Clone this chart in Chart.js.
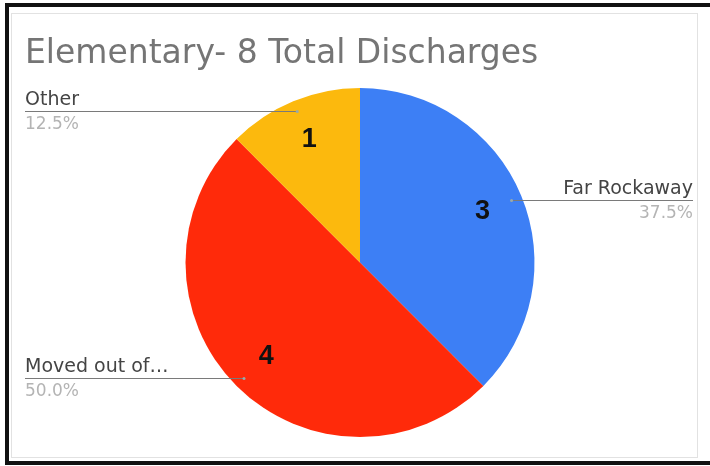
<!DOCTYPE html>
<html>
<head>
<meta charset="utf-8">
<script src="https://cdn.jsdelivr.net/npm/chart.js@4.4.1/dist/chart.umd.min.js"></script>
<style>
  html, body { margin: 0; padding: 0; background: #fff; overflow: hidden; }
  #wrap { position: relative; width: 710px; height: 466px; }
  #frame { position: absolute; left: 5px; top: 3px; width: 740px; height: 462px;
           box-sizing: border-box; border: 4px solid #111; border-right: none; pointer-events: none; }
  #inner { position: absolute; left: 11px; top: 13px; width: 687px; height: 445px;
           box-sizing: border-box; border: 1px solid #e2e2e2; pointer-events: none; }
</style>
</head>
<body>
<div id="wrap">
  <canvas id="chart" width="710" height="466"></canvas>
  <div id="inner"></div>
  <div id="frame"></div>
</div>
<script>
// data
const chartTitle = "Elementary- 8 Total Discharges";
const categories = ["Far Rockaway", "Moved out of\u2026", "Other"];
const counts = [3, 4, 1];
const sliceColors = ["#3d7ff5", "#ff2a0a", "#fcb90d"];

const total = counts.reduce((a, b) => a + b, 0);

// title, slice numbers, leader lines and side labels
const labelPlugin = {
  id: "sheetLabels",
  afterDatasetsDraw(chart) {
    const ctx = chart.ctx;
    const meta = chart.getDatasetMeta(0);
    ctx.save();

    // title
    ctx.font = '33px "DejaVu Sans"';
    ctx.fillStyle = "#757575";
    ctx.textAlign = "left";
    ctx.textBaseline = "alphabetic";
    ctx.fillText(chartTitle, 25, 63);

    meta.data.forEach((arc, i) => {
      const p = arc.getProps(["x", "y", "startAngle", "endAngle", "outerRadius"], true);
      const mid = (p.startAngle + p.endAngle) / 2;
      const R = p.outerRadius;

      // count inside the slice
      ctx.font = 'bold 27px "Liberation Sans"';
      ctx.fillStyle = "#111";
      ctx.textAlign = "center";
      ctx.textBaseline = "middle";
      ctx.fillText(String(counts[i]), p.x + Math.cos(mid) * R * 0.76, p.y + Math.sin(mid) * R * 0.76);

      // leader line
      const sx = p.x + Math.cos(mid) * R * 0.94;
      const sy = Math.round(p.y + Math.sin(mid) * R * 0.94) + 0.5;
      const onRight = Math.cos(mid) > 0;
      const ex = onRight ? chart.width - 17 : 25;
      ctx.strokeStyle = "#7a7a7a";
      ctx.lineWidth = 1;
      ctx.beginPath();
      ctx.moveTo(sx, sy);
      ctx.lineTo(ex, sy);
      ctx.stroke();
      ctx.fillStyle = "#9aa";
      ctx.beginPath();
      ctx.arc(sx, sy, 1.5, 0, Math.PI * 2);
      ctx.fill();

      // name above, percent below
      ctx.textAlign = onRight ? "right" : "left";
      ctx.textBaseline = "alphabetic";
      ctx.font = '19px "DejaVu Sans"';
      ctx.fillStyle = "#444";
      ctx.fillText(categories[i], ex, sy - 7);
      ctx.font = '17px "DejaVu Sans"';
      ctx.fillStyle = "#b4b4b4";
      ctx.fillText((counts[i] / total * 100).toFixed(1) + "%", ex, sy + 17);
    });
    ctx.restore();
  }
};

new Chart(document.getElementById("chart").getContext("2d"), {
  type: "pie",
  data: {
    labels: categories,
    datasets: [{
      data: counts,
      backgroundColor: sliceColors,
      borderWidth: 0
    }]
  },
  options: {
    responsive: false,
    animation: false,
    layout: { padding: { top: 88, bottom: 29, left: 10, right: 0 } },
    plugins: {
      legend: { display: false },
      tooltip: { enabled: false },
      title: { display: false }
    }
  },
  plugins: [labelPlugin]
});
</script>
</body>
</html>
